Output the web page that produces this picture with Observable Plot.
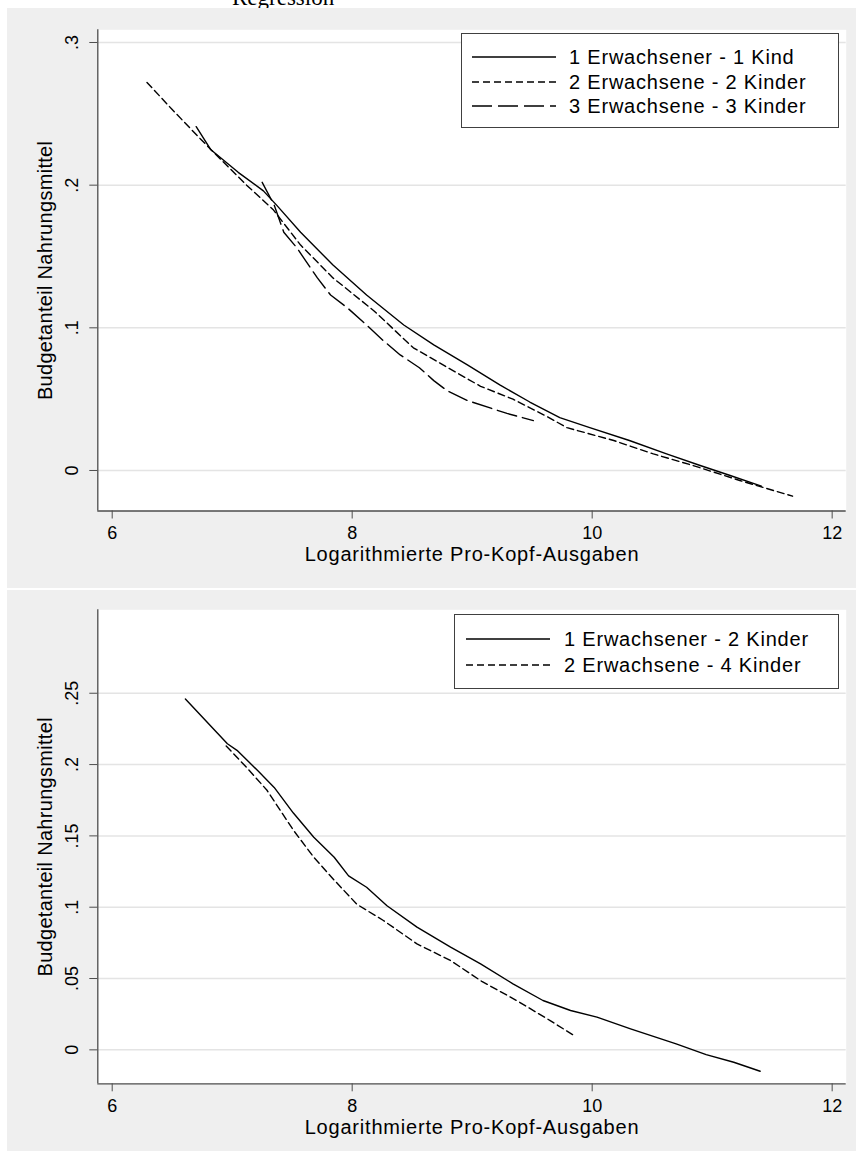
<!DOCTYPE html>
<html><head><meta charset="utf-8">
<script src="https://cdn.jsdelivr.net/npm/d3@7"></script>
<script src="https://cdn.jsdelivr.net/npm/@observablehq/plot@0.6"></script>
<style>
body{margin:0;background:#fff;font-family:"Liberation Sans",Arial,sans-serif;}
#page{position:relative;width:856px;height:1151px;overflow:hidden;background:#fff}
.panel{position:absolute;left:7px}
#frag{position:absolute;left:0;top:0;width:856px;height:8px;overflow:hidden}
#frag span{position:absolute;left:232px;top:-14px;font-family:"Liberation Serif","Times New Roman",serif;font-size:23px;line-height:23px;color:#000;white-space:nowrap}
.legend{position:absolute;background:#fff;border:1px solid #404040;box-sizing:border-box}
.legend svg{position:absolute}
.legend span{position:absolute;font-size:20px;letter-spacing:0.8px;white-space:nowrap;line-height:20px;color:#000}
</style></head>
<body><div id="page">
<div id="frag"><span>Regression</span></div>
<div id="p1" class="panel" style="top:8px"></div>
<div id="p2" class="panel" style="top:590px"></div>
</div>
<script>
// ---- data ----
const xTicks = [6, 8, 10, 12];
const xTickLabels = ["6", "8", "10", "12"];
const xTitle = "Logarithmierte Pro-Kopf-Ausgaben";
const yTitle = "Budgetanteil Nahrungsmittel";

const topYTicks = [0, 0.1, 0.2, 0.3];
const topYTickLabels = ["0", ".1", ".2", ".3"];
const bottomYTicks = [0, 0.05, 0.1, 0.15, 0.2, 0.25];
const bottomYTickLabels = ["0", ".05", ".1", ".15", ".2", ".25"];

const topNames = ["1 Erwachsener - 1 Kind", "2 Erwachsene - 2 Kinder", "3 Erwachsene - 3 Kinder"];
const top1x = [6.70, 6.82, 7.05, 7.26, 7.37, 7.57, 7.84, 8.12, 8.43, 8.68, 8.96, 9.23, 9.48, 9.73, 9.98, 10.31, 10.62, 10.90, 11.15, 11.41];
const top1y = [0.241, 0.225, 0.209, 0.196, 0.186, 0.167, 0.144, 0.123, 0.102, 0.088, 0.074, 0.060, 0.048, 0.037, 0.030, 0.021, 0.0116, 0.0035, -0.0035, -0.011];
const top2x = [6.29, 6.50, 6.74, 6.87, 7.12, 7.34, 7.57, 7.84, 8.18, 8.51, 8.84, 9.07, 9.34, 9.62, 9.79, 10.18, 10.51, 10.84, 11.23, 11.67];
const top2y = [0.272, 0.253, 0.232, 0.221, 0.200, 0.183, 0.158, 0.135, 0.112, 0.086, 0.070, 0.059, 0.050, 0.038, 0.030, 0.021, 0.0116, 0.0035, -0.007, -0.018];
const top3x = [7.25, 7.35, 7.43, 7.54, 7.62, 7.71, 7.82, 7.96, 8.12, 8.26, 8.40, 8.56, 8.68, 8.79, 8.96, 9.18, 9.29, 9.51];
const top3y = [0.202, 0.186, 0.167, 0.156, 0.146, 0.135, 0.123, 0.114, 0.102, 0.091, 0.081, 0.072, 0.063, 0.056, 0.049, 0.043, 0.040, 0.035];

const bottomNames = ["1 Erwachsener - 2 Kinder", "2 Erwachsene - 4 Kinder"];
const bot1x = [6.61, 6.96, 7.04, 7.21, 7.35, 7.51, 7.68, 7.85, 7.97, 8.12, 8.29, 8.54, 8.82, 9.07, 9.34, 9.59, 9.82, 10.04, 10.32, 10.70, 10.95, 11.18, 11.40];
const bot1y = [0.246, 0.2146, 0.210, 0.196, 0.184, 0.166, 0.149, 0.135, 0.122, 0.114, 0.101, 0.086, 0.072, 0.0603, 0.0463, 0.0346, 0.0276, 0.0229, 0.0147, 0.0042, -0.0033, -0.0087, -0.015];
const bot2x = [6.95, 7.12, 7.29, 7.51, 7.68, 7.85, 8.04, 8.26, 8.54, 8.82, 9.08, 9.37, 9.65, 9.84];
const bot2y = [0.213, 0.198, 0.182, 0.154, 0.135, 0.119, 0.102, 0.0907, 0.0743, 0.0626, 0.048, 0.0346, 0.0205, 0.0105];

// ---- styling / layout ----
const dashes = [null, "7,4", "20,6"];
const xDomain = [5.88, 12.117];
const axisColor = "#4d4d4d";

function rows(xs, ys) { return xs.map((x, i) => ({x, y: ys[i]})); }

function chart({series, yDomain, yTicks, yTickLabels, height, marginTop, marginBottom}) {
  const yfmt = new Map(yTicks.map((t, i) => [t, yTickLabels[i]]));
  const xfmt = new Map(xTicks.map((t, i) => [t, xTickLabels[i]]));
  const svg = Plot.plot({
    width: 849, height,
    marginLeft: 90.3, marginRight: 10.3, marginTop, marginBottom,
    x: {domain: xDomain},
    y: {domain: yDomain},
    style: {background: "#efefef", color: "#000", fontFamily: '"Liberation Sans", Arial, sans-serif', fontSize: "18px", overflow: "visible"},
    marks: [
      Plot.frame({fill: "#ffffff", stroke: null}),
      Plot.ruleY(yTicks, {stroke: "#e4e4e4", strokeWidth: 1.5}),
      ...series.map((s, i) => Plot.line(s, {x: "x", y: "y", stroke: "#000", strokeWidth: 1.4, strokeDasharray: dashes[i]})),
      Plot.ruleX([xDomain[0]], {stroke: axisColor, strokeWidth: 1.3}),
      Plot.ruleY([yDomain[0]], {stroke: axisColor, strokeWidth: 1.3}),
      Plot.axisX({ticks: xTicks, tickSize: 8, tickPadding: 7, tickFormat: d => xfmt.get(d), stroke: axisColor, fill: "#000", label: null, fontSize: 18}),
      Plot.axisY({ticks: yTicks, tickSize: 8, tickPadding: 12, tickRotate: -90, tickFormat: d => yfmt.get(d), stroke: axisColor, fill: "#000", label: null, fontSize: 18}),
      Plot.text([xTitle], {text: d => d, frameAnchor: "bottom", textAnchor: "middle", lineAnchor: "middle", dy: 44, fontSize: 20, fill: "#000"}),
      Plot.text([yTitle], {text: d => d, frameAnchor: "left", textAnchor: "middle", lineAnchor: "middle", dx: -52, rotate: -90, fontSize: 20, fill: "#000"})
    ]
  });
  svg.querySelectorAll("text").forEach(t => {
    if (t.textContent === xTitle) t.style.letterSpacing = "0.8px";
    if (t.textContent === yTitle) t.style.letterSpacing = "0.3px";
  });
  return svg;
}

function legend(names, {left, top, width, height, rowCenters, lineX0, lineX1, textX}) {
  const div = document.createElement("div");
  div.className = "legend";
  Object.assign(div.style, {left: left + "px", top: top + "px", width: width + "px", height: height + "px"});
  names.forEach((name, i) => {
    const cy = rowCenters[i];
    const s = d3.create("svg").attr("width", lineX1 - lineX0).attr("height", 6)
      .style("left", lineX0 + "px").style("top", (cy - 3) + "px");
    s.append("line").attr("x1", 0).attr("x2", lineX1 - lineX0).attr("y1", 3).attr("y2", 3)
      .attr("stroke", "#000").attr("stroke-width", 1.4)
      .attr("stroke-dasharray", dashes[i]);
    div.appendChild(s.node());
    const sp = document.createElement("span");
    sp.textContent = name;
    sp.style.left = textX + "px";
    sp.style.top = (cy - 10) + "px";
    div.appendChild(sp);
  });
  document.getElementById("page").appendChild(div);
}

document.getElementById("p1").appendChild(chart({
  series: [rows(top1x, top1y), rows(top2x, top2y), rows(top3x, top3y)],
  yDomain: [-0.0284, 0.3089], yTicks: topYTicks, yTickLabels: topYTickLabels,
  height: 580, marginTop: 21.3, marginBottom: 77.5
}));
document.getElementById("p2").appendChild(chart({
  series: [rows(bot1x, bot1y), rows(bot2x, bot2y)],
  yDomain: [-0.0238, 0.3085], yTicks: bottomYTicks, yTickLabels: bottomYTickLabels,
  height: 561, marginTop: 19.3, marginBottom: 67.7
}));

legend(topNames, {left: 461, top: 33, width: 378, height: 95, rowCenters: [23, 48, 72], lineX0: 10, lineX1: 94, textX: 107});
legend(bottomNames, {left: 454, top: 614, width: 385, height: 75, rowCenters: [24, 50], lineX0: 11, lineX1: 95, textX: 109});
</script>
</body></html>
